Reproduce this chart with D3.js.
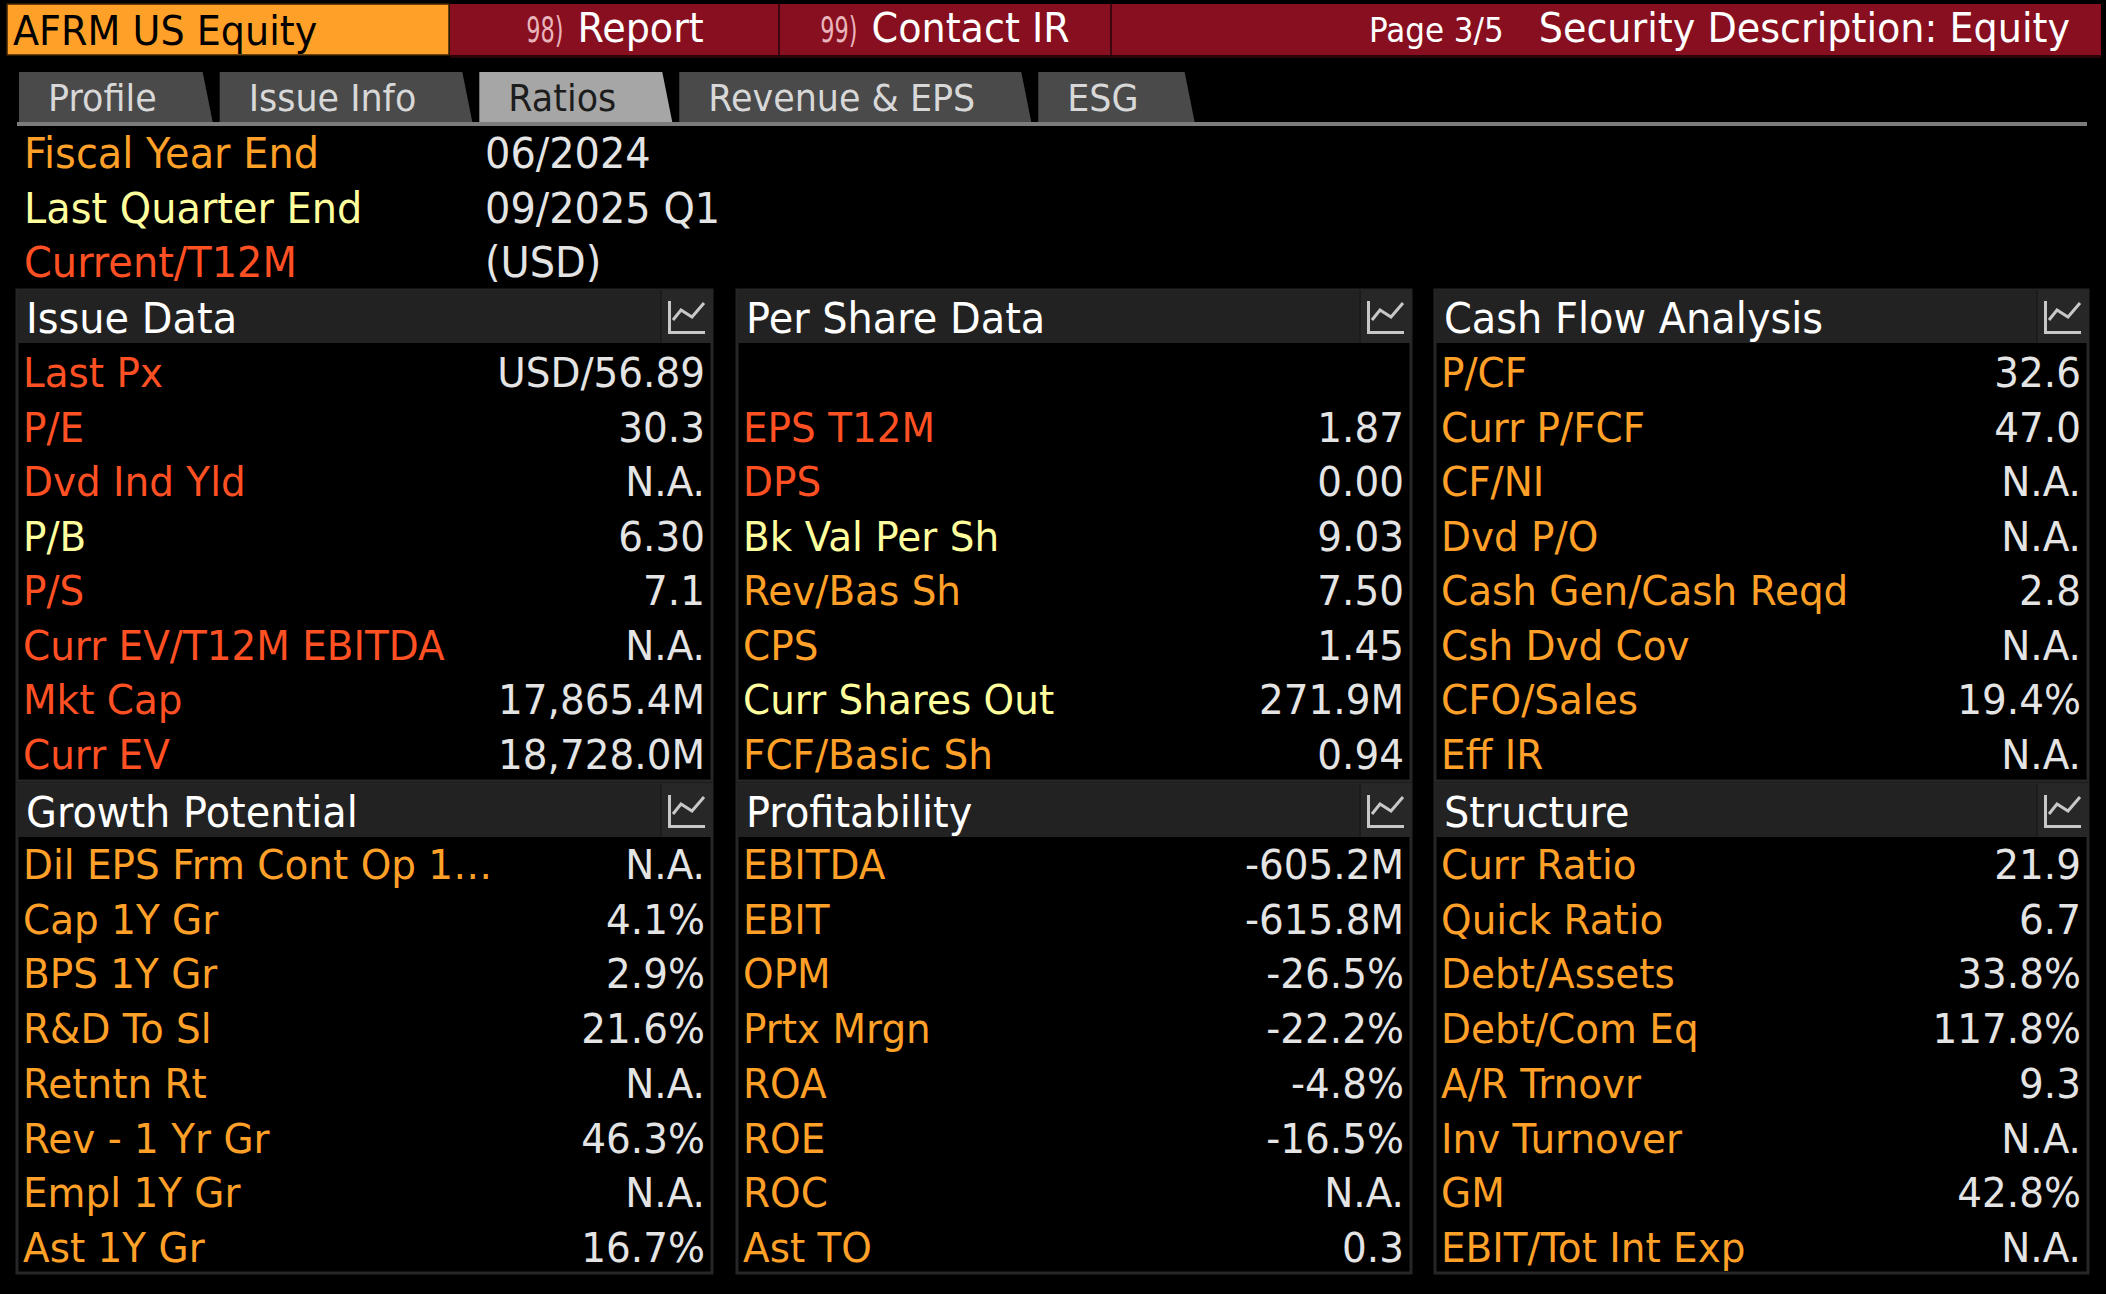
<!DOCTYPE html>
<html>
<head>
<meta charset="utf-8">
<script src="https://cdn.jsdelivr.net/npm/d3@7"></script>
<style>
html, body { margin: 0; background: #000; overflow: hidden; }
svg { display: block; font-family: "DejaVu Sans", "Noto Sans", sans-serif; }
</style>
</head>
<body>
<svg id="chart"></svg>
<script>
// top bar + tabs
var tickerLabel = "AFRM US Equity";
var menuNumbers = ["98)", "99)"];
var menuItems = ["Report", "Contact IR"];
var pageLabel = "Page 3/5";
var screenTitle = "Security Description: Equity";
var tabNames = ["Profile", "Issue Info", "Ratios", "Revenue & EPS", "ESG"];
var activeTab = "Ratios";

// heading rows
var infoLabels = ["Fiscal Year End", "Last Quarter End", "Current/T12M"];
var infoValues = ["06/2024", "09/2025 Q1", "(USD)"];
var infoTones = ["o", "y", "r"];

var panelTitles = ["Issue Data", "Per Share Data", "Cash Flow Analysis",
                   "Growth Potential", "Profitability", "Structure"];

var issueLabels = ["Last Px", "P/E", "Dvd Ind Yld", "P/B", "P/S", "Curr EV/T12M EBITDA", "Mkt Cap", "Curr EV"];
var issueValues = ["USD/56.89", "30.3", "N.A.", "6.30", "7.1", "N.A.", "17,865.4M", "18,728.0M"];
var issueTones = ["r", "r", "r", "y", "r", "r", "r", "r"];

var perShareLabels = ["", "EPS T12M", "DPS", "Bk Val Per Sh", "Rev/Bas Sh", "CPS", "Curr Shares Out", "FCF/Basic Sh"];
var perShareValues = ["", "1.87", "0.00", "9.03", "7.50", "1.45", "271.9M", "0.94"];
var perShareTones = ["o", "r", "r", "y", "o", "o", "y", "o"];

var cashFlowLabels = ["P/CF", "Curr P/FCF", "CF/NI", "Dvd P/O", "Cash Gen/Cash Reqd", "Csh Dvd Cov", "CFO/Sales", "Eff IR"];
var cashFlowValues = ["32.6", "47.0", "N.A.", "N.A.", "2.8", "N.A.", "19.4%", "N.A."];
var cashFlowTones = ["o", "o", "o", "o", "o", "o", "o", "o"];

var growthLabels = ["Dil EPS Frm Cont Op 1…", "Cap 1Y Gr", "BPS 1Y Gr", "R&D To Sl", "Retntn Rt", "Rev - 1 Yr Gr", "Empl 1Y Gr", "Ast 1Y Gr"];
var growthValues = ["N.A.", "4.1%", "2.9%", "21.6%", "N.A.", "46.3%", "N.A.", "16.7%"];
var growthTones = ["o", "o", "o", "o", "o", "o", "o", "o"];

var profitLabels = ["EBITDA", "EBIT", "OPM", "Prtx Mrgn", "ROA", "ROE", "ROC", "Ast TO"];
var profitValues = ["-605.2M", "-615.8M", "-26.5%", "-22.2%", "-4.8%", "-16.5%", "N.A.", "0.3"];
var profitTones = ["o", "o", "o", "o", "o", "o", "o", "o"];

var structureLabels = ["Curr Ratio", "Quick Ratio", "Debt/Assets", "Debt/Com Eq", "A/R Trnovr", "Inv Turnover", "GM", "EBIT/Tot Int Exp"];
var structureValues = ["21.9", "6.7", "33.8%", "117.8%", "9.3", "N.A.", "42.8%", "N.A."];
var structureTones = ["o", "o", "o", "o", "o", "o", "o", "o"];

var W = 2106, H = 1294;
var toneColor = { r: "#ff5024", o: "#ffa028", y: "#ffff9e" };
var valueColor = "#e4e4e4";

var svg = d3.select("#chart").attr("width", W).attr("height", H);
svg.append("rect").attr("width", W).attr("height", H).attr("fill", "#000");

// terminal font is a bit narrower than DejaVu, so squeeze glyphs horizontally
function place(x, y, sx) { return "translate(" + x + "," + y + ") scale(" + sx + ",1)"; }
function label(sel, x, y, size, sx, str) {
    return sel.append("text").attr("transform", place(x, y, sx)).attr("font-size", size).text(str);
}

// ---- top bar
var bar = svg.append("g");
bar.append("rect").attr("x", 450).attr("y", 4).attr("width", 1651).attr("height", 51).attr("fill", "#880f1f");
bar.append("rect").attr("x", 450).attr("y", 55).attr("width", 1651).attr("height", 3).attr("fill", "#2a0508");
bar.append("rect").attr("x", 7).attr("y", 4).attr("width", 442).attr("height", 51)
    .attr("fill", "#ffa028").attr("stroke", "#3a2200").attr("stroke-width", 1.5);
[779, 1111].forEach(function(x) {
    bar.append("rect").attr("x", x - 1).attr("y", 4).attr("width", 2).attr("height", 51).attr("fill", "#3c0610");
});
label(bar, 13, 45, 41, 0.93, tickerLabel).attr("fill", "#000");

var menuCenters = [615, 945];
menuItems.forEach(function(m, i) {
    // the menu numbers are drawn in a condensed face
    var num = label(bar, 0, 0, 35, 0.64, menuNumbers[i]).attr("fill", "#e8b4bc");
    var nw = num.node().getComputedTextLength() * 0.64;
    var lab = label(bar, 0, 0, 41, 0.93, m).attr("fill", "#fff");
    var lw = lab.node().getComputedTextLength() * 0.93;
    var left = menuCenters[i] - (nw + 14 + lw) / 2;
    num.attr("transform", place(left, 42, 0.64));
    lab.attr("transform", place(left + nw + 14, 42, 0.93));
});
var title = label(bar, 2070, 42, 41, 0.93, screenTitle).attr("fill", "#fff").attr("text-anchor", "end");
var tStart = 2070 - title.node().getComputedTextLength() * 0.93;
label(bar, tStart - 35, 42, 33, 0.94, pageLabel).attr("fill", "#fff").attr("text-anchor", "end");

// ---- tabs
var tabTop = 72, tabBottom = 122;
var tabs = svg.append("g");
var tabX = 19;
tabNames.forEach(function(name) {
    var active = name === activeTab;
    var shape = tabs.append("path");
    var t = label(tabs, tabX + 29, 111, 38, 0.92, name).attr("fill", active ? "#1c1c1c" : "#d8d8d8");
    var w = t.node().getComputedTextLength() * 0.92 + 75;
    shape.attr("d", d3.line()([[tabX, tabTop], [tabX + w, tabTop], [tabX + w + 10, tabBottom], [tabX, tabBottom]]) + "Z")
        .attr("fill", active ? "#a6a6a6" : "#4a4a4a");
    tabX += w + 10 + 7;
});
tabs.append("rect").attr("x", 17).attr("y", 122).attr("width", 2070).attr("height", 4).attr("fill", "#7c7c7c");

// ---- heading rows
var infoY = d3.scaleLinear().domain([0, 2]).range([168, 277]);
var info = svg.append("g").attr("font-size", 42);
info.selectAll("text.lab").data(infoLabels).join("text").attr("class", "lab")
    .attr("transform", function(d, i) { return place(24, infoY(i), 0.95); })
    .attr("fill", function(d, i) { return toneColor[infoTones[i]]; }).text(function(d) { return d; });
info.selectAll("text.val").data(infoValues).join("text").attr("class", "val")
    .attr("transform", function(d, i) { return place(485, infoY(i), 0.95); })
    .attr("fill", valueColor).text(function(d) { return d; });

// ---- panels
var colLeft = [17, 737, 1435];
var colRight = [712, 1411, 2088];
var headTop = [290, 784];
var headH = 53;
var bodyBottom = [781, 1273];
var rowY = [
    d3.scaleLinear().domain([0, 7]).range([387, 769]),
    d3.scaleLinear().domain([0, 7]).range([879, 1262])
];

var panels = [
    { labels: issueLabels, values: issueValues, tones: issueTones },
    { labels: perShareLabels, values: perShareValues, tones: perShareTones },
    { labels: cashFlowLabels, values: cashFlowValues, tones: cashFlowTones },
    { labels: growthLabels, values: growthValues, tones: growthTones },
    { labels: profitLabels, values: profitValues, tones: profitTones },
    { labels: structureLabels, values: structureValues, tones: structureTones }
];

panels.forEach(function(p, k) {
    var c = k % 3, b = Math.floor(k / 3);
    var x0 = colLeft[c], x1 = colRight[c], top = headTop[b];
    var g = svg.append("g");

    // frame
    g.append("rect").attr("x", x0).attr("y", top).attr("width", x1 - x0).attr("height", bodyBottom[b] - top)
        .attr("fill", "#000").attr("stroke", "#262626").attr("stroke-width", 3);
    g.append("rect").attr("x", x0).attr("y", top).attr("width", x1 - x0).attr("height", headH).attr("fill", "#222");
    g.append("rect").attr("x", x1 - 51).attr("y", top).attr("width", 51).attr("height", headH).attr("fill", "#272727");
    g.append("rect").attr("x", x1 - 52).attr("y", top).attr("width", 2).attr("height", headH).attr("fill", "#1c1c1c");
    label(g, x0 + 9, top + 43, 42, 0.95, panelTitles[k]).attr("fill", "#fff");

    // chart icon
    var ix = x1 - 51;
    g.append("path")
        .attr("d", d3.line()([[ix + 8.5, top + 11], [ix + 8.5, top + 42.5], [ix + 44, top + 42.5]]))
        .attr("fill", "none").attr("stroke", "#c8c8c8").attr("stroke-width", 3);
    g.append("path")
        .attr("d", d3.line()([[ix + 12, top + 30], [ix + 20, top + 20], [ix + 31, top + 27], [ix + 43, top + 13]]))
        .attr("fill", "none").attr("stroke", "#c8c8c8").attr("stroke-width", 3);

    var y = rowY[b];
    g.selectAll("text.lab").data(p.labels).join("text").attr("class", "lab")
        .attr("transform", function(d, i) { return place(x0 + 6, y(i), 0.95); })
        .attr("font-size", 41)
        .attr("fill", function(d, i) { return toneColor[p.tones[i]]; })
        .text(function(d) { return d; });
    g.selectAll("text.val").data(p.values).join("text").attr("class", "val")
        .attr("transform", function(d, i) { return place(x1 - 7, y(i), 0.95); })
        .attr("font-size", 41).attr("text-anchor", "end")
        .attr("fill", valueColor)
        .text(function(d) { return d; });
});
</script>
</body>
</html>
